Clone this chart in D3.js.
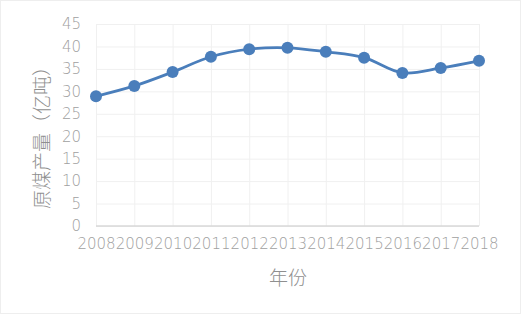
<!DOCTYPE html>
<html>
<head>
<meta charset="utf-8">
<script src="https://cdn.jsdelivr.net/npm/d3@7"></script>
<style>
  body { margin: 0; background: #fff; }
  svg { display: block; }
</style>
</head>
<body>
<svg id="chart" width="523" height="317"></svg>
<script>
// data
var years = ['2008','2009','2010','2011','2012','2013','2014','2015','2016','2017','2018'];
var output = [28.9, 31.2, 34.3, 37.7, 39.4, 39.7, 38.8, 37.5, 34.1, 35.2, 36.8];
var yTicks = [0, 5, 10, 15, 20, 25, 30, 35, 40, 45];

var svg = d3.select("#chart");

// faint chart border
svg.append("rect")
  .attr("x", 0.5).attr("y", 0.5)
  .attr("width", 520).attr("height", 313)
  .attr("fill", "#fff")
  .attr("stroke", "#eeeeee");

var x = d3.scalePoint().domain(years).range([96, 479]);
var y = d3.scaleLinear().domain([0, 45]).range([226, 24]);

// horizontal grid
svg.append("g")
  .attr("transform", "translate(96,0)")
  .call(d3.axisLeft(y).tickValues(yTicks).tickSize(-383).tickFormat(""))
  .call(g => g.select(".domain").remove())
  .selectAll("line").attr("stroke", "#f0f0f0");

// vertical grid
svg.append("g")
  .attr("transform", "translate(0,24)")
  .call(d3.axisBottom(x).tickSize(202).tickFormat(""))
  .call(g => g.select(".domain").remove())
  .selectAll("line").attr("stroke", "#f0f0f0");

// y tick labels
svg.append("g")
  .attr("transform", "translate(81,0)")
  .call(d3.axisLeft(y).tickValues(yTicks).tickSize(0).tickPadding(0))
  .call(g => g.select(".domain").remove())
  .selectAll("text")
  .attr("font-family", "DejaVu Sans")
  .attr("font-weight", 200)
  .attr("font-size", 15)
  .attr("fill", "#a0a0a0");

// x axis
var xa = svg.append("g")
  .attr("transform", "translate(0,226)")
  .call(d3.axisBottom(x).tickSize(0).tickPadding(12));
xa.select(".domain").attr("stroke", "#d9d9d9").attr("stroke-width", 1.3)
  .attr("d", "M96,0H479");
xa.selectAll("text")
  .attr("font-family", "DejaVu Sans")
  .attr("font-weight", 200)
  .attr("font-size", 15)
  .attr("fill", "#a0a0a0");

// line
var line = d3.line()
  .x(function(d, i) { return x(years[i]); })
  .y(function(d) { return y(d); })
  .curve(d3.curveCatmullRom.alpha(0.5));

svg.append("path")
  .datum(output)
  .attr("d", line)
  .attr("fill", "none")
  .attr("stroke", "#4a7ebb")
  .attr("stroke-width", 2.8);

svg.selectAll(".dot")
  .data(output)
  .enter()
  .append("circle")
  .attr("cx", function(d, i) { return x(years[i]); })
  .attr("cy", function(d) { return y(d); })
  .attr("r", 6)
  .attr("fill", "#4a7ebb");

// axis titles
svg.append("text")
  .attr("x", 288).attr("y", 276)
  .attr("text-anchor", "middle")
  .attr("dominant-baseline", "central")
  .attr("font-family", "Noto Sans CJK SC")
  .attr("font-weight", 300)
  .attr("font-size", 19)
  .attr("fill", "#8f8f8f")
  .text("年份");

svg.append("text")
  .attr("transform", "translate(40,133) rotate(-90)")
  .attr("text-anchor", "middle")
  .attr("dominant-baseline", "central")
  .attr("font-family", "Noto Sans CJK SC")
  .attr("font-weight", 300)
  .attr("font-size", 19)
  .attr("fill", "#8f8f8f")
  .text("原煤产量（亿吨）");
</script>
</body>
</html>
